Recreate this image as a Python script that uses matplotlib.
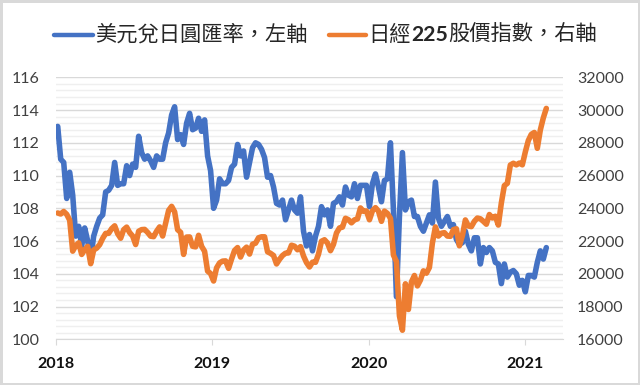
import numpy as np
import pandas as pd
import matplotlib
matplotlib.use('Agg')
import matplotlib.pyplot as plt
import matplotlib.dates as mdates
from matplotlib.lines import Line2D
from matplotlib.ticker import MultipleLocator, FixedLocator

# weekly closes (Fri)
usdjpy = [113.0, 111.0, 110.8, 108.6, 110.2, 108.8, 106.3, 106.9, 105.7, 106.8,
          106.0, 104.9, 106.3, 106.9, 107.4, 107.6, 109.0, 109.1, 109.4, 110.8,
          109.4, 109.5, 109.5, 110.6, 110.0, 110.7, 110.5, 112.4, 111.4, 111.0,
          111.2, 110.9, 110.5, 111.2, 111.0, 111.0, 112.0, 112.6, 113.7, 114.2,
          112.2, 112.5, 111.9, 113.2, 113.8, 112.8, 112.9, 113.5, 112.7, 113.4,
          111.2, 110.3, 108.0, 108.5, 109.8, 109.5, 109.5, 109.7, 110.5, 110.7,
          111.9, 111.2, 111.5, 109.9, 110.8, 111.7, 112.0, 111.9, 111.6, 111.1,
          109.9, 110.0, 109.3, 108.3, 108.2, 108.5, 107.3, 107.9, 108.5, 107.9,
          107.7, 108.7, 106.6, 105.7, 106.4, 105.4, 106.3, 106.9, 108.1, 107.6,
          107.9, 106.9, 108.3, 108.4, 108.7, 108.2, 109.3, 108.8, 108.7, 109.5,
          108.6, 109.4, 109.4, 109.4, 108.1, 109.5, 110.1, 109.3, 108.4, 109.7,
          109.8, 112.0, 107.9, 102.6, 107.5, 111.4, 107.9, 108.4, 108.5, 107.5,
          107.5, 106.9, 106.6, 107.1, 107.6, 107.1, 109.6, 107.4, 106.9, 107.2,
          107.5, 106.9, 107.0, 106.1, 105.8, 105.9, 106.6, 105.8, 105.4, 106.2,
          106.2, 104.6, 105.6, 105.3, 105.6, 105.4, 104.7, 104.6, 103.4, 104.6,
          103.8, 104.1, 104.2, 104.0, 103.3, 103.6, 102.9, 103.9, 103.9, 103.8,
          104.7, 105.4, 104.9, 105.6]

nikkei = [23715, 23653, 23808, 23632, 23274, 21383, 21720, 21893, 21182, 21469,
          21676, 20617, 21454, 21568, 21779, 22162, 22468, 22473, 22758, 22930,
          22451, 22171, 22694, 22851, 22516, 22305, 21788, 22597, 22697, 22712,
          22525, 22298, 22270, 22601, 22865, 22307, 23094, 23870, 24120, 23784,
          22694, 22532, 21184, 22243, 22250, 21680, 21646, 22351, 21679, 21374,
          20166, 20015, 19561, 20360, 20666, 20774, 20788, 20333, 20900, 21426,
          21602, 21025, 21451, 21627, 21206, 21807, 21870, 22200, 22259, 22259,
          21345, 21250, 21117, 20601, 20884, 21117, 21259, 21276, 21746, 21686,
          21467, 21658, 21087, 20685, 20418, 20711, 20704, 21200, 21988, 22079,
          21879, 21410, 21799, 22492, 22800, 22851, 23392, 23303, 23113, 23294,
          23354, 24023, 23816, 23837, 23300, 23850, 24041, 23827, 23205, 23828,
          23688, 23386, 21143, 20750, 17431, 16553, 19389, 17820, 19499, 19897,
          19262, 19619, 20179, 20037, 20388, 21878, 22863, 22305, 22478, 22512,
          22306, 22290, 22696, 22751, 21710, 22329, 23289, 22920, 22882, 23205,
          23406, 23360, 23205, 23029, 23620, 23411, 23516, 22977, 24325, 25385,
          25527, 26644, 26751, 26652, 26763, 26656, 27444, 28139, 28519, 28631,
          27663, 28779, 29520, 30100]

dates = pd.date_range('2018-01-05', periods=len(usdjpy), freq='W-FRI')
years = ['2018', '2019', '2020', '2021']

label_usd = '美元兌日圓匯率，左軸'
label_nk = ['日經', '225', '股價指數，右軸']

blue = '#4472C4'
orange = '#ED7D31'
cjk = ['Noto Sans CJK TC', 'DejaVu Sans']

fig = plt.figure(figsize=(6.4, 3.85), dpi=100)
fig.patch.set_edgecolor('#d9d9d9')
fig.patch.set_linewidth(2.5)

ax = fig.add_axes([0.0875, 0.1187, 0.7922, 0.6805])
ax2 = ax.twinx()

ax.plot(dates, usdjpy, color=blue, lw=4, solid_capstyle='round', solid_joinstyle='round', zorder=3)
ax2.plot(dates, nikkei, color=orange, lw=4, solid_capstyle='round', solid_joinstyle='round', zorder=3)

ax.set_ylim(100, 116)
ax2.set_ylim(16000, 32000)
ax.yaxis.set_major_locator(MultipleLocator(2))
ax.yaxis.set_minor_locator(MultipleLocator(0.4))
ax2.yaxis.set_major_locator(MultipleLocator(2000))

ax.set_xlim(pd.Timestamp('2018-01-01'), pd.Timestamp('2021-03-30'))
ax.xaxis.set_major_locator(FixedLocator([mdates.date2num(pd.Timestamp(y + '-01-01')) for y in years]))
ax.set_xticklabels(years)

ax.set_axisbelow(True)
ax.grid(axis='y', which='major', color='#d9d9d9', lw=1)
ax.grid(axis='y', which='minor', color='#efefef', lw=1)

for a in (ax, ax2):
    for s in a.spines.values():
        s.set_visible(False)
ax.spines['bottom'].set_visible(True)
ax.spines['bottom'].set_color('#d9d9d9')

ax.tick_params(axis='y', which='both', length=0, pad=12, labelsize=11.5, labelcolor='#404040')
ax2.tick_params(axis='y', which='both', length=0, pad=10, labelsize=11.5, labelcolor='#404040')
ax.tick_params(axis='x', length=4, color='#d9d9d9', pad=9, labelsize=11.5, labelcolor='#111111')
for t in ax.get_yticklabels() + ax2.get_yticklabels():
    t.set_family('Lato')
for t in ax.get_xticklabels():
    t.set_family('Lato')
    t.set_fontweight('bold')

# legend drawn by hand so that "225" can be bold
ly = 1 - 35 / 385
fig.add_artist(Line2D([54 / 640, 93 / 640], [ly, ly], color=blue, lw=3.2, solid_capstyle='round'))
fig.text(95 / 640, ly, label_usd, family=cjk, fontsize=15.3, va='center', ha='left', color='#262626')
fig.add_artist(Line2D([329 / 640, 366 / 640], [ly, ly], color=orange, lw=3.2, solid_capstyle='round'))
t1 = fig.text(368 / 640, ly, label_nk[0], family=cjk, fontsize=15.3, va='center', ha='left', color='#262626')
t2 = fig.text(0, 0, label_nk[1], family='Lato', fontweight='bold', fontsize=15.3, va='center', ha='left', color='#262626')
t3 = fig.text(0, 0, label_nk[2], family=cjk, fontsize=15.3, va='center', ha='left', color='#262626')

fig.canvas.draw()
r = fig.canvas.get_renderer()
w1 = t1.get_window_extent(r)
t2.set_position((w1.x1 / fig.bbox.width + 0.001, ly))
w2 = t2.get_window_extent(r)
t3.set_position((w2.x1 / fig.bbox.width + 0.001, ly))

fig.savefig('out.png', dpi=100)
